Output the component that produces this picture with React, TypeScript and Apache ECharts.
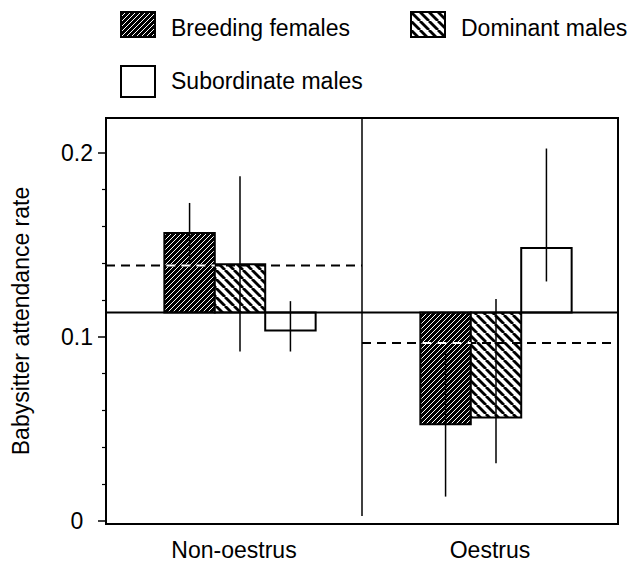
import React, { useEffect, useRef } from 'react';
import * as echarts from 'echarts';

// ---------- data ----------
const categories = ['Non-oestrus', 'Oestrus'];
const seriesNames = ['Breeding females', 'Dominant males', 'Subordinate males'];
const breedingFemales = [0.1565, 0.0525];
const dominantMales = [0.1394, 0.0561];
const subordinateMales = [0.1034, 0.1483];
const breedingFemalesErrLow = [0.1402, 0.0131];
const breedingFemalesErrHigh = [0.1728, 0.0919];
const dominantMalesErrLow = [0.092, 0.0312];
const dominantMalesErrHigh = [0.1873, 0.1205];
const subordinateMalesErrLow = [0.092, 0.1301];
const subordinateMalesErrHigh = [0.1194, 0.2024];
const groupMeans = [0.1388, 0.0966];
const overallMean = 0.1132;
const dividerBottom = 0.0026;
const yLabelTicks = [0, 0.1, 0.2];
const yMinorTicks = [0.02, 0.04, 0.06, 0.08, 0.12, 0.14, 0.16, 0.18];
const yMin = -0.0018;
const yMax = 0.219;

// ---------- style ----------
const FONT = '"Liberation Sans", Arial, Helvetica, sans-serif';
const BAR_FRAC = 0.197;
const SHIFT = 6;

function hatch(size: number, bg: string, fg: string, lw: number, dir: 'up' | 'down') {
  const c = document.createElement('canvas');
  c.width = size;
  c.height = size;
  const ctx = c.getContext('2d')!;
  ctx.fillStyle = bg;
  ctx.fillRect(0, 0, size, size);
  ctx.strokeStyle = fg;
  ctx.lineWidth = lw;
  for (const o of [-size, 0, size]) {
    ctx.beginPath();
    if (dir === 'up') {
      ctx.moveTo(o, size);
      ctx.lineTo(o + size, 0);
    } else {
      ctx.moveTo(o, 0);
      ctx.lineTo(o + size, size);
    }
    ctx.stroke();
  }
  return { image: c.toDataURL(), repeat: 'repeat', imageWidth: size, imageHeight: size };
}

export default function App() {
  const ref = useRef<HTMLDivElement>(null);

  useEffect(() => {
    document.body.style.margin = '0';
    const el = ref.current!;
    const chart = echarts.init(el, undefined, { renderer: 'svg' });

    const bfFill: any = hatch(5, '#000', '#fff', 1, 'up');
    const dmFill: any = hatch(9, '#fff', '#000', 2.8, 'down');
    const smFill: any = '#fff';
    const fills = [bfFill, dmFill, smFill];

    const groups = [
      { v: breedingFemales, lo: breedingFemalesErrLow, hi: breedingFemalesErrHigh },
      { v: dominantMales, lo: dominantMalesErrLow, hi: dominantMalesErrHigh },
      { v: subordinateMales, lo: subordinateMalesErrLow, hi: subordinateMalesErrHigh },
    ];

    const barSeries = groups.map((g, k) => ({
      type: 'custom',
      name: seriesNames[k],
      z: 3,
      data: categories.map((_, i) => [i, g.v[i], g.lo[i], g.hi[i]]),
      renderItem: (params: any, api: any) => {
        const cat = api.value(0);
        const v = api.value(1);
        const lo = api.value(2);
        const hi = api.value(3);
        const band = api.size([1, 0])[0];
        const bw = band * BAR_FRAC;
        const base = api.coord([cat, overallMean]);
        const cx = base[0] + SHIFT + (k - 1) * bw;
        const yv = api.coord([cat, v])[1];
        const ylo = api.coord([cat, lo])[1];
        const yhi = api.coord([cat, hi])[1];
        return {
          type: 'group',
          children: [
            {
              type: 'rect',
              shape: { x: cx - bw / 2, y: Math.min(base[1], yv), width: bw, height: Math.abs(yv - base[1]) },
              style: { fill: fills[k], stroke: '#000', lineWidth: 2 },
            },
            {
              type: 'line',
              shape: { x1: cx, y1: ylo, x2: cx, y2: yhi },
              style: { stroke: '#000', lineWidth: 1.5 },
            },
          ],
        };
      },
    }));

    const refLines = {
      type: 'custom',
      name: 'reference',
      z: 4,
      silent: true,
      data: [[0, overallMean, dividerBottom]],
      renderItem: (params: any, api: any) => {
        const cs = params.coordSys;
        const band = api.size([1, 0])[0];
        const p = api.coord([0, api.value(1)]);
        const xd = p[0] + band / 2;
        const yd = api.coord([0, api.value(2)])[1];
        return {
          type: 'group',
          children: [
            {
              type: 'line',
              shape: { x1: cs.x, y1: p[1], x2: cs.x + cs.width, y2: p[1] },
              style: { stroke: '#000', lineWidth: 2 },
            },
            {
              type: 'line',
              shape: { x1: xd, y1: cs.y, x2: xd, y2: yd },
              style: { stroke: '#000', lineWidth: 1.5 },
            },
          ],
        };
      },
    };

    const meanLines = {
      type: 'custom',
      name: 'group means',
      z: 5,
      silent: true,
      data: categories.map((_, i) => [i, groupMeans[i], breedingFemales[i]]),
      renderItem: (params: any, api: any) => {
        const i = api.value(0);
        const m = api.value(1);
        const bf = api.value(2);
        const band = api.size([1, 0])[0];
        const bw = band * BAR_FRAC;
        const p = api.coord([i, m]);
        const x0 = p[0] - band / 2;
        const x1 = p[0] + band / 2 - (i === categories.length - 1 ? 6 : 0);
        const children: any[] = [
          {
            type: 'line',
            shape: { x1: x0, y1: p[1], x2: x1, y2: p[1] },
            style: { stroke: '#000', lineWidth: 2, lineDash: [9, 6] },
          },
        ];
        const lowB = Math.min(bf, overallMean);
        const highB = Math.max(bf, overallMean);
        if (m > lowB && m < highB) {
          const bx = p[0] + SHIFT - bw;
          const xs = bx - bw / 2;
          const off = (xs - x0) % 15;
          children.push({
            type: 'line',
            shape: { x1: xs, y1: p[1], x2: xs + bw, y2: p[1] },
            style: { stroke: '#fff', lineWidth: 2, lineDash: [9, 6], lineDashOffset: off },
          });
        }
        return { type: 'group', children };
      },
    };

    const legendItems: any[] = [];
    const legendPos = [
      { x: 121, y: 12, h: 25, tx: 171, ty: 28 },
      { x: 411, y: 12, h: 25, tx: 461, ty: 28 },
      { x: 121, y: 66, h: 31, tx: 171, ty: 81 },
    ];
    seriesNames.forEach((n, k) => {
      const lp = legendPos[k];
      legendItems.push({
        type: 'rect',
        x: lp.x,
        y: lp.y,
        shape: { x: 0, y: 0, width: 34, height: lp.h },
        style: { fill: fills[k], stroke: '#000', lineWidth: 2 },
      });
      legendItems.push({
        type: 'text',
        x: lp.tx,
        y: lp.ty,
        style: {
          text: n,
          font: `23px ${FONT}`,
          fill: '#000',
          textAlign: 'left',
          textVerticalAlign: 'middle',
          align: 'left',
          verticalAlign: 'middle',
        },
      });
    });

    chart.setOption({
      animation: false,
      backgroundColor: '#fff',
      textStyle: { fontFamily: FONT },
      grid: {
        left: 106,
        right: 16,
        top: 118,
        bottom: 41,
        show: true,
        borderColor: '#000',
        borderWidth: 2,
      },
      xAxis: {
        type: 'category',
        data: categories,
        axisLine: { onZero: false, lineStyle: { color: '#000', width: 2 } },
        axisTick: { show: false },
        axisLabel: { color: '#000', fontSize: 23, fontFamily: FONT, margin: 14 },
        splitLine: { show: false },
      },
      yAxis: [
        {
          type: 'value',
          min: yMin,
          max: yMax,
          name: 'Babysitter attendance rate',
          nameLocation: 'middle',
          nameGap: 74,
          nameTextStyle: { fontSize: 23, color: '#000', fontFamily: FONT },
          axisLine: { show: true, lineStyle: { color: '#000', width: 2 } },
          axisTick: { show: true, length: 8, customValues: yLabelTicks, lineStyle: { color: '#000', width: 1.5 } },
          axisLabel: {
            customValues: yLabelTicks,
            formatter: (v: number) => String(v),
            fontSize: 23,
            color: '#000',
            fontFamily: FONT,
            margin: 29,
            align: 'center',
          },
          splitLine: { show: false },
        },
        {
          type: 'value',
          min: yMin,
          max: yMax,
          position: 'left',
          axisLine: { show: false },
          axisTick: { show: true, length: 4, customValues: yMinorTicks, lineStyle: { color: '#000', width: 1.2 } },
          axisLabel: { show: false },
          splitLine: { show: false },
        },
      ],
      graphic: legendItems,
      series: [...barSeries, refLines, meanLines],
    });

    return () => chart.dispose();
  }, []);

  return <div ref={ref} style={{ width: 634, height: 565 }} />;
}
